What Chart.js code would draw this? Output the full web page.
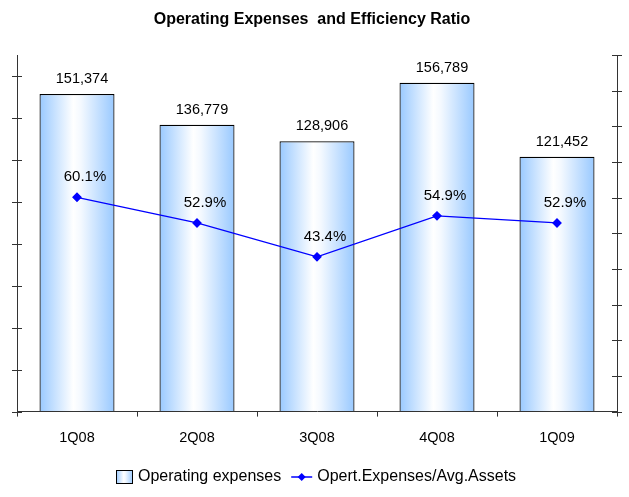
<!DOCTYPE html>
<html>
<head>
<meta charset="utf-8">
<script src="https://cdn.jsdelivr.net/npm/chart.js@4"></script>
<style>
  html, body { margin: 0; padding: 0; background: #fff; }
  #wrap { width: 629px; height: 497px; }
</style>
</head>
<body>
<div id="wrap"><canvas id="opexChart" width="629" height="497"></canvas></div>
<script>
const quarters = ['1Q08', '2Q08', '3Q08', '4Q08', '1Q09'];
const operatingExpenses = [151374, 136779, 128906, 156789, 121452];
const efficiencyRatio = [60.1, 52.9, 43.4, 54.9, 52.9];
const leftTicks = [0, 20000, 40000, 60000, 80000, 100000, 120000, 140000, 160000];
const rightTicks = [0, 10, 20, 30, 40, 50, 60, 70, 80, 90, 100];

const FONT = "'Liberation Sans', Arial, sans-serif";
const BAR_PCT = 0.625;

function barGradient(ctx, cx, w) {
  const g = ctx.createLinearGradient(cx - w / 2, 0, cx + w / 2, 0);
  g.addColorStop(0, '#99c9ff');
  g.addColorStop(0.45, '#ffffff');
  g.addColorStop(0.55, '#f4f9ff');
  g.addColorStop(1, '#99c9ff');
  return g;
}

// title, crossing tick marks, value labels and legend
const decorations = {
  id: 'decorations',
  afterDatasetsDraw(chart) {
    const ctx = chart.ctx;
    const area = chart.chartArea;
    const yl = chart.scales.y;
    const yr = chart.scales.y1;
    ctx.save();
    ctx.strokeStyle = '#333';
    ctx.lineWidth = 1;
    leftTicks.forEach(v => {
      const y = Math.round(yl.getPixelForValue(v)) + 0.5;
      ctx.beginPath();
      ctx.moveTo(area.left - 5, y);
      ctx.lineTo(area.left + 5, y);
      ctx.stroke();
    });
    rightTicks.forEach(v => {
      const y = Math.round(yr.getPixelForValue(v)) + 0.5;
      ctx.beginPath();
      ctx.moveTo(area.right - 5, y);
      ctx.lineTo(area.right + 5, y);
      ctx.stroke();
    });

    ctx.fillStyle = '#000';
    ctx.textAlign = 'center';
    ctx.textBaseline = 'middle';
    ctx.font = '14.5px ' + FONT;
    chart.getDatasetMeta(1).data.forEach((bar, i) => {
      ctx.fillText(operatingExpenses[i].toLocaleString('en-US'), bar.x + 5, bar.y - 15);
    });
    ctx.font = '15px ' + FONT;
    chart.getDatasetMeta(0).data.forEach((pt, i) => {
      ctx.fillText(efficiencyRatio[i].toFixed(1) + '%', pt.x + 8, pt.y - 20);
    });
    ctx.restore();
  },
  afterDraw(chart) {
    const ctx = chart.ctx;
    ctx.save();
    ctx.fillStyle = '#000';
    ctx.textBaseline = 'middle';
    ctx.textAlign = 'center';
    ctx.font = 'bold 16px ' + FONT;
    ctx.fillText('Operating Expenses  and Efficiency Ratio', 312, 20);

    // legend
    ctx.font = '16px ' + FONT;
    ctx.textAlign = 'left';
    const ly = 477;
    const t1 = 'Operating expenses';
    const t2 = 'Opert.Expenses/Avg.Assets';
    const w1 = ctx.measureText(t1).width;
    const w2 = ctx.measureText(t2).width;
    const total = 17 + 5 + w1 + 10 + 22 + 4 + w2;
    let x = Math.round((chart.width - total) / 2 + 2);
    ctx.fillStyle = barGradient(ctx, x + 8.5, 17);
    ctx.fillRect(x, ly - 7, 17, 14);
    ctx.strokeStyle = '#000';
    ctx.strokeRect(x + 0.5, ly - 6.5, 16, 13);
    x += 22;
    ctx.fillStyle = '#000';
    ctx.fillText(t1, x, ly);
    x += w1 + 10;
    ctx.strokeStyle = '#0000ff';
    ctx.lineWidth = 1.5;
    ctx.beginPath();
    ctx.moveTo(x, ly);
    ctx.lineTo(x + 21, ly);
    ctx.stroke();
    ctx.fillStyle = '#0000ff';
    ctx.beginPath();
    ctx.moveTo(x + 10.5, ly - 4);
    ctx.lineTo(x + 14.5, ly);
    ctx.lineTo(x + 10.5, ly + 4);
    ctx.lineTo(x + 6.5, ly);
    ctx.closePath();
    ctx.fill();
    x += 26;
    ctx.fillStyle = '#000';
    ctx.fillText(t2, x, ly);
    ctx.restore();
  }
};

new Chart(document.getElementById('opexChart'), {
  data: {
    labels: quarters,
    datasets: [
      {
        type: 'line',
        label: 'Opert.Expenses/Avg.Assets',
        data: efficiencyRatio,
        yAxisID: 'y1',
        borderColor: '#0000ff',
        borderWidth: 1.3,
        pointStyle: 'rectRot',
        pointRadius: 4,
        pointBackgroundColor: '#0000ff',
        pointBorderColor: '#0000ff',
        tension: 0,
        order: 0
      },
      {
        type: 'bar',
        label: 'Operating expenses',
        data: operatingExpenses,
        yAxisID: 'y',
        borderColor: '#000',
        borderWidth: 1.2,
        categoryPercentage: 1,
        barPercentage: BAR_PCT,
        backgroundColor: (c) => {
          const chart = c.chart;
          if (!chart.chartArea) return '#cfe5ff';
          const xs = chart.scales.x;
          const w = (xs.width / quarters.length) * BAR_PCT;
          return barGradient(chart.ctx, xs.getPixelForValue(c.dataIndex), w);
        },
        order: 1
      }
    ]
  },
  options: {
    responsive: false,
    animation: false,
    layout: { padding: { top: 55, left: 17, right: 12, bottom: 37 } },
    scales: {
      x: {
        offset: true,
        grid: { display: true, offset: true, drawOnChartArea: false, drawTicks: true, tickLength: 5, color: '#333' },
        border: { display: true, color: '#333', width: 1 },
        ticks: { color: '#000', padding: 13, font: { family: FONT, size: 14.5 } }
      },
      y: {
        position: 'left',
        min: 0,
        max: 170000,
        ticks: { display: false, stepSize: 20000 },
        grid: { display: true, drawOnChartArea: false, drawTicks: false },
        border: { display: true, color: '#333', width: 1 }
      },
      y1: {
        position: 'right',
        min: 0,
        max: 100,
        ticks: { display: false, stepSize: 10 },
        grid: { display: true, drawOnChartArea: false, drawTicks: false },
        border: { display: true, color: '#333', width: 1 }
      }
    },
    plugins: {
      legend: { display: false },
      title: { display: false },
      tooltip: { enabled: false }
    }
  },
  plugins: [decorations]
});
</script>
</body>
</html>
